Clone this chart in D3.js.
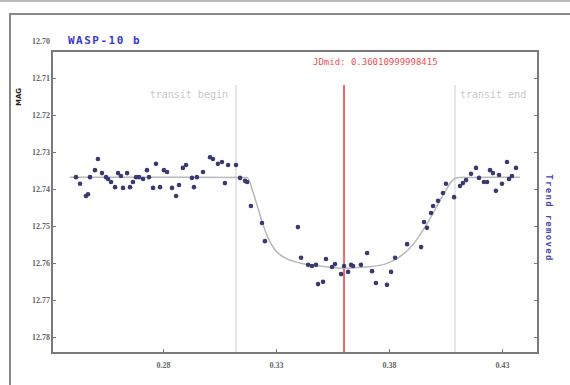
<!DOCTYPE html>
<html>
<head>
<meta charset="utf-8">
<script src="https://cdn.jsdelivr.net/npm/d3@7"></script>
<style>
  body { margin: 0; background: #fff; }
  svg { display: block; }
</style>
</head>
<body>
<svg id="lc" width="570" height="385"></svg>
<script>
// light curve points (phase, magnitude)
const phase = [
  0.2415, 0.2433, 0.2459, 0.2468, 0.2477, 0.2499, 0.2512, 0.2530, 0.2548, 0.2557,
  0.2570, 0.2588, 0.2601, 0.2614, 0.2623, 0.2641, 0.2654, 0.2667, 0.2681, 0.2694,
  0.2712, 0.2729, 0.2738, 0.2756, 0.2769, 0.2787, 0.2804, 0.2818, 0.2840, 0.2858,
  0.2871, 0.2888, 0.2902, 0.2928, 0.2937, 0.2950, 0.2977, 0.3008, 0.3021, 0.3043,
  0.3061, 0.3074, 0.3088, 0.3123, 0.3141, 0.3163, 0.3172, 0.3189, 0.3238, 0.3251,
  0.3397, 0.3411, 0.3442, 0.3459, 0.3477, 0.3486, 0.3508, 0.3521, 0.3548, 0.3561,
  0.3588, 0.3601, 0.3619, 0.3632, 0.3641, 0.3676, 0.3703, 0.3725, 0.3742, 0.3791,
  0.3809, 0.3827, 0.3880,
  0.3942, 0.3955, 0.3968, 0.3986, 0.3995, 0.4017, 0.4039, 0.4052, 0.4088, 0.4114,
  0.4127, 0.4141, 0.4163, 0.4185, 0.4198, 0.4220, 0.4234, 0.4247, 0.4260, 0.4273,
  0.4287, 0.4300, 0.4322, 0.4331, 0.4344, 0.4362
];
const mag = [
  12.7368, 12.7386, 12.7419, 12.7414, 12.7368, 12.7349, 12.7319, 12.7357, 12.7368, 12.7373,
  12.7381, 12.7395, 12.7357, 12.7365, 12.7397, 12.7357, 12.7395, 12.7381, 12.7368, 12.7368,
  12.7373, 12.7349, 12.7368, 12.7397, 12.7332, 12.7395, 12.7349, 12.7354, 12.7397, 12.7419,
  12.7389, 12.7343, 12.7335, 12.7370, 12.7395, 12.7368, 12.7354, 12.7314, 12.7319, 12.7332,
  12.7327, 12.7384, 12.7335, 12.7335, 12.7370, 12.7378, 12.7381, 12.7446, 12.7492, 12.7541,
  12.7503, 12.7586, 12.7605, 12.7608, 12.7605, 12.7657, 12.7651, 12.7589, 12.7611, 12.7603,
  12.7630, 12.7608, 12.7624, 12.7605, 12.7608, 12.7605, 12.7573, 12.7622, 12.7654, 12.7659,
  12.7624, 12.7586, 12.7549,
  12.7557, 12.7489, 12.7505, 12.7465, 12.7446, 12.7432, 12.7411, 12.7386, 12.7422, 12.7392,
  12.7384, 12.7376, 12.7359, 12.7343, 12.7370, 12.7381, 12.7381, 12.7349, 12.7357, 12.7405,
  12.7362, 12.7386, 12.7327, 12.7373, 12.7365, 12.7343
];

// fitted transit model
const modelPhase = [0.2388, 0.3172, 0.3198, 0.3220, 0.3242, 0.3265, 0.3296, 0.3340, 0.3406, 0.3495, 0.3605,
                    0.3694, 0.3782, 0.3840, 0.3884, 0.3928, 0.3973, 0.4017, 0.4052, 0.4079, 0.4105, 0.4380];
const modelMag = [12.7368, 12.7369, 12.7408, 12.7451, 12.7495, 12.7532, 12.7565, 12.7586, 12.7600, 12.7608, 12.7614,
                  12.7611, 12.7603, 12.7586, 12.7565, 12.7532, 12.7489, 12.7441, 12.7403, 12.7378, 12.7369, 12.7368];

const xTicks = [0.28, 0.33, 0.38, 0.43];
const yTicks = [12.70, 12.71, 12.72, 12.73, 12.74, 12.75, 12.76, 12.77, 12.78];

const transitBegin = 0.3123;
const transitEnd = 0.4092;
const jdMid = 0.3601;
const jdMidLabel = "JDmid: 0.36010999998415";
const title = "WASP-10 b";

// =======================================================================================
function drawLightCurve(svgIdName)
 {
  const svg = d3.select("#" + svgIdName);
  const box = { left: 52, top: 51, right: 538, bottom: 353 };

  const x = d3.scaleLinear().domain([0.28, 0.43]).range([163, 502]);
  const y = d3.scaleLinear().domain([12.70, 12.78]).range([41, 337]);

  // outer frame
  svg.append("line").attr("x1", 0).attr("x2", 570).attr("y1", 1).attr("y2", 1)
    .attr("stroke", "#bbb").attr("stroke-width", 2);
  svg.append("path").attr("d", "M10,385V14H570")
    .attr("fill", "none").attr("stroke", "#888").attr("stroke-width", 2);

  // transit markers
  [transitBegin, transitEnd].forEach(v => {
    svg.append("line")
      .attr("x1", x(v)).attr("x2", x(v)).attr("y1", 85).attr("y2", box.bottom)
      .attr("stroke", "#ddd").attr("stroke-width", 1.5);
  });
  svg.append("text").attr("x", x(transitBegin) - 8).attr("y", 98)
    .attr("text-anchor", "end").attr("fill", "#c8c8c8")
    .style("font", "10px 'DejaVu Sans Mono'").text("transit begin");
  svg.append("text").attr("x", x(transitEnd) + 5).attr("y", 98)
    .attr("fill", "#c8c8c8")
    .style("font", "10px 'DejaVu Sans Mono'").text("transit end");

  svg.append("line")
    .attr("x1", x(jdMid)).attr("x2", x(jdMid)).attr("y1", 85).attr("y2", box.bottom)
    .attr("stroke", "#ee4444").attr("stroke-width", 1.6);
  svg.append("text").attr("x", 313).attr("y", 65)
    .attr("fill", "#f05050")
    .style("font", "9px 'DejaVu Sans Mono'").text(jdMidLabel);

  // model curve
  const line = d3.line()
    .x(i => x(modelPhase[i]))
    .y(i => y(modelMag[i]))
    .curve(d3.curveMonotoneX);
  svg.append("path")
    .datum(d3.range(modelPhase.length))
    .attr("fill", "none").attr("stroke", "#b8b8b8").attr("stroke-width", 1.5)
    .attr("d", line);

  // points
  svg.append("g").selectAll("circle")
    .data(d3.range(phase.length))
    .enter().append("circle")
    .attr("cx", i => x(phase[i]))
    .attr("cy", i => y(mag[i]))
    .attr("r", 2.3)
    .attr("fill", "#3a3a72");

  // plot box
  svg.append("rect")
    .attr("x", box.left).attr("y", box.top)
    .attr("width", box.right - box.left).attr("height", box.bottom - box.top)
    .attr("fill", "none").attr("stroke", "#7a7a7a").attr("stroke-width", 2);

  // left axis, ticks pointing in
  const inside = v => y(v) > box.top + 2;
  const gl = svg.append("g").attr("transform", `translate(${box.left},0)`)
    .call(d3.axisLeft(y).tickValues(yTicks).tickFormat(d3.format(".2f")).tickSizeInner(-4).tickSizeOuter(0).tickPadding(3));
  gl.select(".domain").remove();
  gl.selectAll(".tick line").attr("stroke", "#777").attr("display", d => inside(d) ? null : "none");
  gl.selectAll(".tick text").attr("fill", "#666")
    .style("font", "bold 8px 'Liberation Serif'").attr("dx", 1);

  // right axis, ticks only
  const gr = svg.append("g").attr("transform", `translate(${box.right},0)`)
    .call(d3.axisRight(y).tickValues(yTicks.filter(inside)).tickFormat("").tickSizeInner(-4).tickSizeOuter(0));
  gr.select(".domain").remove();
  gr.selectAll(".tick line").attr("stroke", "#777");

  // bottom axis
  const gb = svg.append("g").attr("transform", `translate(0,${box.bottom})`)
    .call(d3.axisBottom(x).tickValues(xTicks).tickFormat(d3.format(".2f")).tickSizeInner(-4).tickSizeOuter(0).tickPadding(9));
  gb.select(".domain").remove();
  gb.selectAll(".tick line").attr("stroke", "#777");
  gb.selectAll(".tick text").attr("fill", "#666")
    .style("font", "bold 8px 'Liberation Serif'");

  // titles
  svg.append("text").attr("x", 68).attr("y", 44)
    .attr("fill", "#3a3ad0").style("font", "bold 11px 'DejaVu Sans Mono'")
    .attr("letter-spacing", 1.5).text(title);

  svg.append("text").attr("transform", "translate(21,97) rotate(-90)")
    .attr("text-anchor", "middle").attr("fill", "#222")
    .style("font", "bold 7px 'DejaVu Sans'").text("MAG");

  svg.append("text").attr("transform", "translate(546,218) rotate(90)")
    .attr("text-anchor", "middle").attr("fill", "#4848b0")
    .style("font", "bold 9px 'DejaVu Sans Mono'").attr("letter-spacing", 1.3)
    .text("Trend removed");
 }

drawLightCurve("lc");
</script>
</body>
</html>
